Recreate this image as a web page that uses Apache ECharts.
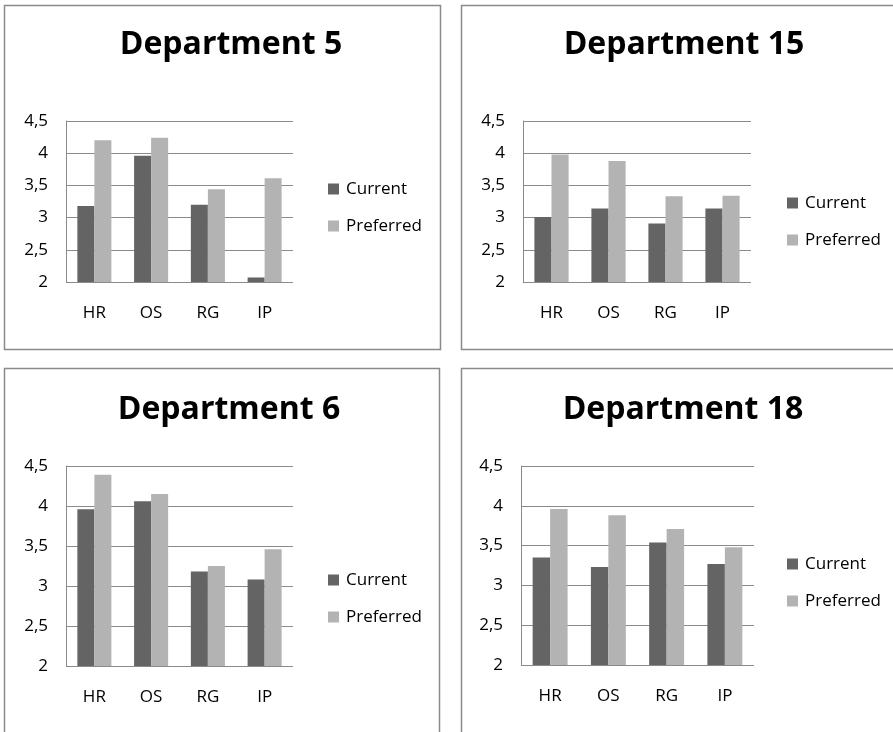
<!DOCTYPE html>
<html>
<head>
<meta charset="utf-8">
<title>Departments: Current vs Preferred</title>
<script src="https://cdn.jsdelivr.net/npm/echarts@6/dist/echarts.min.js"></script>
<style>
  html, body { margin: 0; padding: 0; background: #fff; overflow: hidden; }
  #chart { width: 893px; height: 732px; }
</style>
</head>
<body>
<div id="chart"></div>
<script>
// Dimensions shared by all four panels
const categories = ['HR', 'OS', 'RG', 'IP'];
const seriesNames = ['Current', 'Preferred'];
const yMin = 2;
const yMax = 4.5;
const yStep = 0.5;

// Per-department scores
const dept5Current    = [3.18, 3.96, 3.20, 2.07];
const dept5Preferred  = [4.20, 4.24, 3.44, 3.61];
const dept15Current   = [3.01, 3.14, 2.91, 3.14];
const dept15Preferred = [3.98, 3.88, 3.33, 3.34];
const dept6Current    = [3.96, 4.06, 3.18, 3.08];
const dept6Preferred  = [4.39, 4.15, 3.25, 3.46];
const dept18Current   = [3.35, 3.23, 3.54, 3.27];
const dept18Preferred = [3.96, 3.88, 3.71, 3.48];

const panelTitles = ['Department 5', 'Department 15', 'Department 6', 'Department 18'];
const panelData = [
  [dept5Current, dept5Preferred],
  [dept15Current, dept15Preferred],
  [dept6Current, dept6Preferred],
  [dept18Current, dept18Preferred]
];

// Layout of each panel (frame, plot area, title centre, legend position)
const layout = [
  { frame: [4, 5, 436, 344],   grid: [66, 121, 227, 161],  titleX: 226, titleY: 24,  legend: [328, 178] },
  { frame: [461, 5, 460, 344], grid: [523, 121, 228, 161], titleX: 679, titleY: 24,  legend: [787, 192] },
  { frame: [4, 368, 435, 400], grid: [66, 466, 227, 200],  titleX: 224, titleY: 389, legend: [328, 569] },
  { frame: [461, 368, 460, 400], grid: [521, 466, 233, 199], titleX: 678, titleY: 389, legend: [787, 553] }
];

const FONT = "'Open Sans', 'Noto Sans', sans-serif";
const COLORS = ['#646464', '#b3b3b3'];

const option = {
  animation: false,
  backgroundColor: '#ffffff',
  color: COLORS,
  title: [], grid: [], xAxis: [], yAxis: [], legend: [], series: [],
  graphic: []
};

layout.forEach((p, i) => {
  option.graphic.push({
    type: 'rect',
    silent: true,
    z: -1,
    shape: { x: p.frame[0] + 0.5, y: p.frame[1] + 0.5, width: p.frame[2], height: p.frame[3] },
    style: { fill: 'none', stroke: '#8a8a8a', lineWidth: 1.5 }
  });

  option.title.push({
    text: panelTitles[i],
    left: p.titleX,
    top: p.titleY,
    textAlign: 'center',
    textStyle: { fontFamily: FONT, fontSize: 32, fontWeight: 'bold', color: '#000' }
  });

  option.grid.push({
    left: p.grid[0], top: p.grid[1], width: p.grid[2], height: p.grid[3],
    containLabel: false
  });

  option.xAxis.push({
    type: 'category',
    gridIndex: i,
    data: categories,
    axisLine: { show: false },
    axisTick: { show: false },
    axisLabel: { fontFamily: FONT, fontSize: 17, color: '#000', margin: 23 }
  });

  option.yAxis.push({
    type: 'value',
    gridIndex: i,
    min: yMin, max: yMax, interval: yStep,
    axisLine: { show: true, lineStyle: { color: '#8a8a8a', width: 1 } },
    axisTick: { show: false },
    splitLine: { show: true, lineStyle: { color: '#8a8a8a', width: 1 } },
    axisLabel: {
      fontFamily: FONT, fontSize: 17, color: '#000', margin: 18,
      formatter: v => String(v).replace('.', ',')
    }
  });

  option.legend.push({
    orient: 'vertical',
    left: p.legend[0], top: p.legend[1],
    itemWidth: 11, itemHeight: 11, itemGap: 15,
    icon: 'rect',
    data: seriesNames,
    textStyle: { fontFamily: FONT, fontSize: 17, color: '#000', lineHeight: 22, padding: [0, 0, 0, 2] },
    padding: 0,
    selectedMode: false
  });

  seriesNames.forEach((name, s) => {
    option.series.push({
      type: 'bar',
      name: name,
      xAxisIndex: i, yAxisIndex: i,
      data: panelData[i][s],
      barGap: '0%',
      barCategoryGap: '40%',
      itemStyle: { color: COLORS[s] }
    });
  });
});

const chart = echarts.init(document.getElementById('chart'), null, { renderer: 'canvas' });
chart.setOption(option);
</script>
</body>
</html>
